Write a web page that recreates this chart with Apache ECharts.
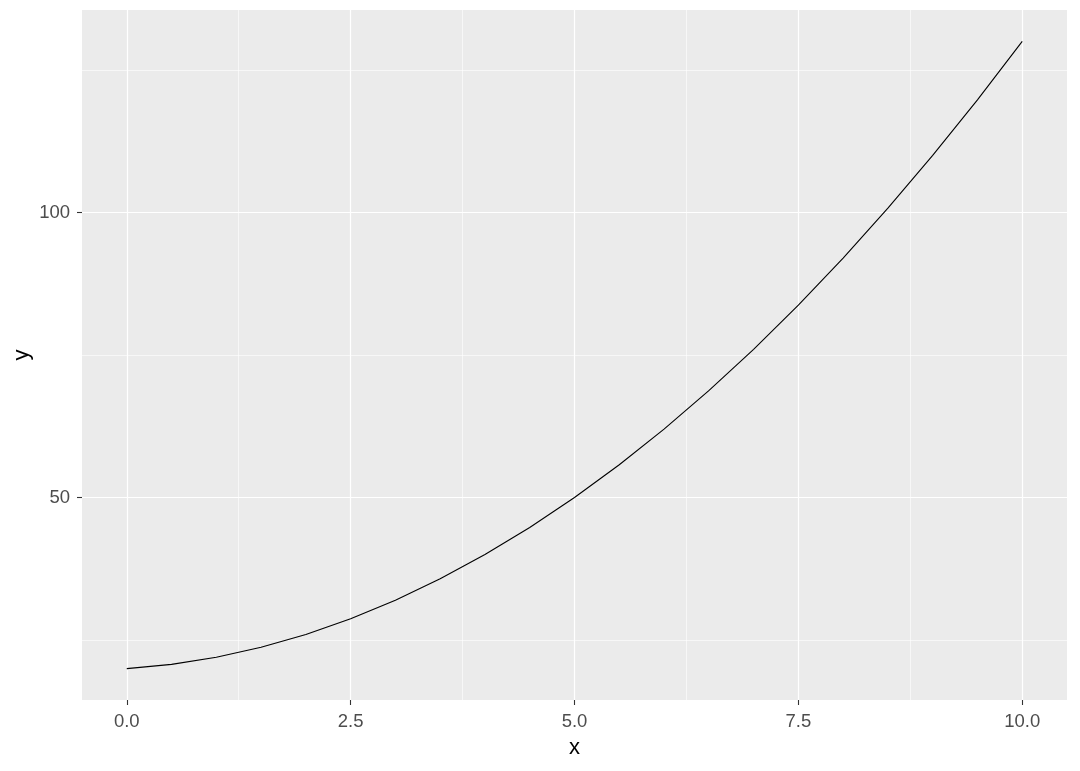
<!DOCTYPE html>
<html>
<head>
<meta charset="utf-8">
<script src="https://cdn.jsdelivr.net/npm/echarts@6/dist/echarts.min.js"></script>
<style>
    html, body { margin: 0; padding: 0; background: #fff; }
    #chart { width: 1080px; height: 771px; }
</style>
</head>
<body>
<div id="chart"></div>
<script>
    // values
    var xValues = [0, 0.5, 1, 1.5, 2, 2.5, 3, 3.5, 4, 4.5, 5, 5.5, 6, 6.5, 7, 7.5, 8, 8.5, 9, 9.5, 10]
    var yValues = [20, 20.75, 22, 23.75, 26, 28.75, 32, 35.75, 40, 44.75, 50, 55.75, 62, 68.75, 76, 83.75, 92, 100.75, 110, 119.75, 130]

    // tick labels / grid lines
    var xTicks = [0, 2.5, 5, 7.5, 10]
    var xMinor = [1.25, 3.75, 6.25, 8.75]
    var yTicks = [50, 100]
    var yMinor = [25, 75, 125]

    var font = 'Liberation Sans, Arial, sans-serif'

    var gridLines = []
    xMinor.forEach(function (v) { gridLines.push({ xAxis: v, lineStyle: { width: 0.6 } }) })
    yMinor.forEach(function (v) { gridLines.push({ yAxis: v, lineStyle: { width: 0.6 } }) })
    xTicks.forEach(function (v) { gridLines.push({ xAxis: v, lineStyle: { width: 1.2 } }) })
    yTicks.forEach(function (v) { gridLines.push({ yAxis: v, lineStyle: { width: 1.2 } }) })

    var lineData = xValues.map(function (x, i) { return [x, yValues[i]] })

    var myChart = echarts.init(document.getElementById('chart'))
    myChart.setOption({
        animation: false,
        grid: {
            left: 82,
            right: 13,
            top: 10,
            bottom: 71,
            outerBoundsMode: 'none',
            containLabel: false,
            show: true,
            backgroundColor: '#EBEBEB',
            borderWidth: 0
        },
        xAxis: {
            type: 'value',
            min: -0.5,
            max: 10.5,
            name: 'x',
            nameLocation: 'middle',
            nameGap: 37,
            nameTextStyle: { color: '#000', fontSize: 22, fontFamily: font },
            axisLine: { show: true, onZero: false, lineStyle: { color: 'rgba(0,0,0,0)' } },
            axisTick: { show: true, length: 5, customValues: xTicks, lineStyle: { color: '#333333', width: 1.1 } },
            axisLabel: {
                customValues: xTicks,
                margin: 12,
                color: '#4D4D4D',
                fontSize: 18.5,
                fontFamily: font,
                formatter: function (v) { return v.toFixed(1) }
            },
            splitLine: { show: false }
        },
        yAxis: {
            type: 'value',
            min: 14.5,
            max: 135.5,
            name: 'y',
            nameLocation: 'middle',
            nameRotate: 90,
            nameGap: 49,
            nameMoveOverlap: false,
            nameTextStyle: { color: '#000', fontSize: 22, fontFamily: font },
            axisLine: { show: true, onZero: false, lineStyle: { color: 'rgba(0,0,0,0)' } },
            axisTick: { show: true, length: 5, customValues: yTicks, lineStyle: { color: '#333333', width: 1.1 } },
            axisLabel: {
                customValues: yTicks,
                margin: 12,
                color: '#4D4D4D',
                fontSize: 18.5,
                fontFamily: font
            },
            splitLine: { show: false }
        },
        series: [
            {
                // panel grid lines
                type: 'line',
                z: 1,
                symbol: 'none',
                silent: true,
                data: [],
                lineStyle: { opacity: 0 },
                markLine: {
                    z: 1,
                    silent: true,
                    symbol: ['none', 'none'],
                    label: { show: false },
                    lineStyle: { color: '#FFFFFF', type: 'solid' },
                    emphasis: { disabled: true },
                    data: gridLines
                }
            },
            {
                type: 'line',
                z: 3,
                symbol: 'none',
                data: lineData,
                lineStyle: { color: '#000000', width: 1.1 }
            }
        ]
    })
</script>
</body>
</html>
